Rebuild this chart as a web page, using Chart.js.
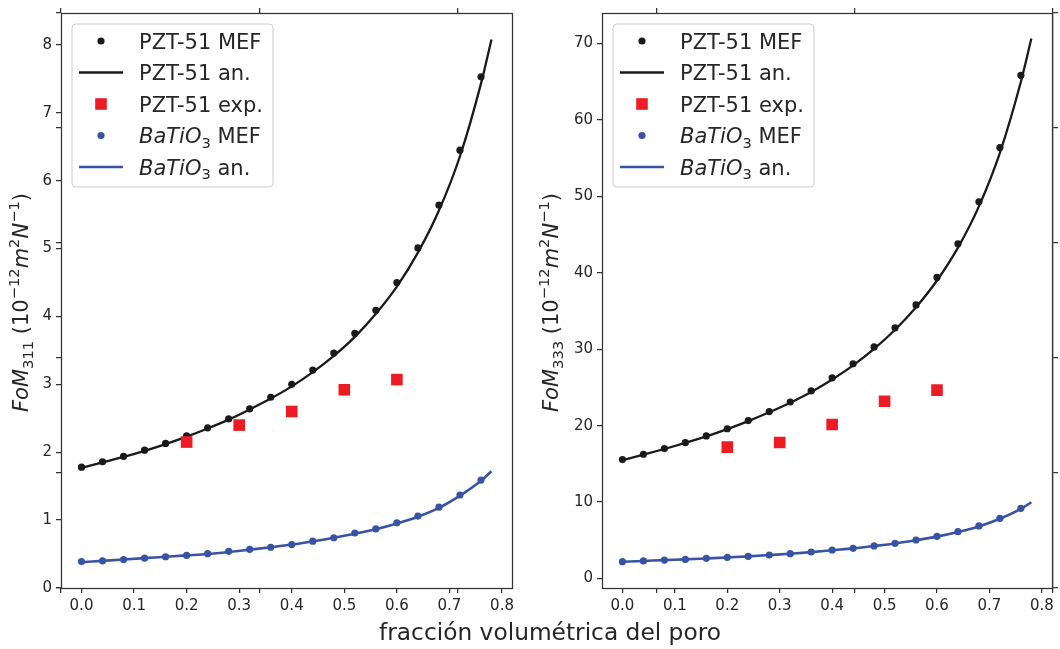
<!DOCTYPE html>
<html>
<head>
<meta charset="utf-8">
<script src="https://cdn.jsdelivr.net/npm/chart.js@4.4.1/dist/chart.umd.min.js"></script>
<style>
  html, body { margin: 0; padding: 0; background: #fff; }
  #lienzo { position: relative; width: 1060px; height: 649px; }
  #lienzo canvas { position: absolute; left: 0; top: 0; }
</style>
</head>
<body>
<div id="lienzo">
  <canvas id="marco" width="1060" height="649"></canvas>
  <canvas id="fom311" width="1060" height="649"></canvas>
  <canvas id="fom333" width="1060" height="649"></canvas>
</div>
<script>
// fracción volumétrica del poro
const fraccionMEF = [0, 0.04, 0.08, 0.12, 0.16, 0.20, 0.24, 0.28, 0.32, 0.36, 0.40, 0.44, 0.48, 0.52, 0.56, 0.60, 0.64, 0.68, 0.72, 0.76];
const fraccionAn = [0, 0.04, 0.08, 0.12, 0.16, 0.20, 0.24, 0.28, 0.32, 0.36, 0.40, 0.44, 0.48, 0.52, 0.56, 0.60, 0.64, 0.68, 0.72, 0.76, 0.78];
const fraccionExp = [0.2, 0.3, 0.4, 0.5, 0.6];

// FoM311
const pzt311MEF = [1.78, 1.86, 1.94, 2.03, 2.13, 2.24, 2.36, 2.49, 2.64, 2.81, 3.00, 3.21, 3.46, 3.75, 4.09, 4.50, 5.01, 5.64, 6.45, 7.53];
const pzt311An = [1.77, 1.85, 1.93, 2.02, 2.12, 2.23, 2.35, 2.48, 2.63, 2.79, 2.97, 3.18, 3.42, 3.70, 4.04, 4.44, 4.94, 5.56, 6.36, 7.43, 8.08];
const pzt311Exp = [2.15, 2.40, 2.60, 2.92, 3.07];
const bto311MEF = [0.39, 0.40, 0.42, 0.44, 0.46, 0.48, 0.505, 0.54, 0.57, 0.60, 0.64, 0.69, 0.74, 0.81, 0.87, 0.96, 1.06, 1.19, 1.37, 1.59];
const bto311An = [0.38, 0.40, 0.42, 0.44, 0.46, 0.48, 0.50, 0.53, 0.565, 0.60, 0.64, 0.685, 0.74, 0.80, 0.865, 0.95, 1.05, 1.18, 1.36, 1.58, 1.72];

// FoM333
const pzt333MEF = [15.56, 16.26, 17.0, 17.79, 18.66, 19.6, 20.67, 21.85, 23.1, 24.55, 26.26, 28.1, 30.3, 32.8, 35.8, 39.4, 43.8, 49.3, 56.4, 65.85];
const pzt333An = [15.5, 16.2, 16.95, 17.75, 18.6, 19.55, 20.6, 21.75, 23.0, 24.4, 26.05, 27.9, 30.05, 32.55, 35.5, 39.0, 43.3, 48.7, 55.7, 65.0, 70.65];
const pzt333Exp = [17.2, 17.8, 20.15, 23.2, 24.65];
const bto333MEF = [2.2, 2.3, 2.42, 2.5, 2.64, 2.77, 2.9, 3.08, 3.25, 3.47, 3.73, 3.95, 4.26, 4.6, 5.04, 5.52, 6.13, 6.88, 7.88, 9.19];
const bto333An = [2.2, 2.3, 2.41, 2.5, 2.63, 2.76, 2.9, 3.07, 3.25, 3.46, 3.71, 3.95, 4.25, 4.58, 5.0, 5.48, 6.08, 6.82, 7.82, 9.12, 9.98];

// marcas de los ejes
const ticksX = [0, 0.1, 0.2, 0.3, 0.4, 0.5, 0.6, 0.7, 0.8];
const ticksY311 = [0, 1, 2, 3, 4, 5, 6, 7, 8];
const ticksY333 = [0, 10, 20, 30, 40, 50, 60, 70];
const ticksMarco = [0, 0.2, 0.4, 0.6, 0.8, 1.0];

const FUENTE = '"DejaVu Sans"';
const NEGRO = '#1a1a1a';
const AZUL = '#3953a4';
const ROJO = '#ed1c24';
const EJE = '#333333';
const TEXTO = '#262626';

const pares = (xs, ys) => xs.map((x, i) => ({ x: x, y: ys[i] }));

// texto con cursiva, subíndices y superíndices
function anchoRico(ctx, segs, size) {
    let w = 0;
    segs.forEach(s => {
        const fs = (s.sub || s.sup) ? size * 0.7 : size;
        ctx.font = (s.it ? 'italic ' : '') + fs + 'px ' + FUENTE;
        w += ctx.measureText(s.t).width;
    });
    return w;
}
function dibujarRico(ctx, segs, x, y, size) {
    let cx = x;
    segs.forEach(s => {
        const fs = (s.sub || s.sup) ? size * 0.7 : size;
        ctx.font = (s.it ? 'italic ' : '') + fs + 'px ' + FUENTE;
        const dy = s.sub ? size * 0.22 : (s.sup ? -size * 0.42 : 0);
        ctx.fillText(s.t, cx, y + dy);
        cx += ctx.measureText(s.t).width;
    });
}
function segmentosEtiqueta(label) {
    if (label.startsWith('BaTiO3')) {
        return [{ t: 'BaTiO', it: true }, { t: '3', sub: true }, { t: label.slice(6) }];
    }
    return [{ t: label }];
}

// marco completo de cada panel
const marcoPanel = {
    id: 'marcoPanel',
    afterDraw(chart) {
        const a = chart.chartArea, ctx = chart.ctx;
        ctx.save();
        ctx.strokeStyle = EJE;
        ctx.lineWidth = 1.25;
        const l = Math.round(a.left) + 0.5, r = Math.round(a.right) + 0.5;
        const t = Math.round(a.top) + 0.5, b = Math.round(a.bottom) + 0.5;
        ctx.strokeRect(l, t, r - l, b - t);
        ctx.restore();
    }
};

// leyenda dentro del área de datos
const leyendaPanel = {
    id: 'leyendaPanel',
    afterDraw(chart) {
        const a = chart.chartArea, ctx = chart.ctx;
        const x0 = a.left + 11, y0 = a.top + 11, w = 201, h = 163, rad = 4;
        ctx.save();
        ctx.beginPath();
        ctx.moveTo(x0 + rad, y0);
        ctx.arcTo(x0 + w, y0, x0 + w, y0 + h, rad);
        ctx.arcTo(x0 + w, y0 + h, x0, y0 + h, rad);
        ctx.arcTo(x0, y0 + h, x0, y0, rad);
        ctx.arcTo(x0, y0, x0 + w, y0, rad);
        ctx.closePath();
        ctx.fillStyle = 'rgba(255,255,255,0.8)';
        ctx.fill();
        ctx.strokeStyle = '#cccccc';
        ctx.lineWidth = 1;
        ctx.stroke();

        const size = 21;
        chart.data.datasets.forEach((ds, i) => {
            const cy = a.top + 28 + i * 31.5;
            const mx = a.left + 40;
            if (ds.showLine) {
                ctx.strokeStyle = ds.borderColor;
                ctx.lineWidth = ds.borderWidth;
                ctx.beginPath();
                ctx.moveTo(a.left + 18, cy);
                ctx.lineTo(a.left + 62, cy);
                ctx.stroke();
            } else if (ds.pointStyle === 'rect') {
                const s = ds.pointRadius * Math.SQRT1_2;
                ctx.fillStyle = ds.backgroundColor;
                ctx.fillRect(mx - s, cy - s, 2 * s, 2 * s);
            } else {
                ctx.fillStyle = ds.backgroundColor;
                ctx.beginPath();
                ctx.arc(mx, cy, ds.pointRadius, 0, 2 * Math.PI);
                ctx.fill();
            }
            ctx.fillStyle = TEXTO;
            ctx.textBaseline = 'alphabetic';
            ctx.textAlign = 'left';
            dibujarRico(ctx, segmentosEtiqueta(ds.label), a.left + 78, cy + size * 0.36, size);
        });
        ctx.restore();
    }
};

// título del eje y girado
const tituloY = {
    id: 'tituloY',
    afterDraw(chart, args, opts) {
        const a = chart.chartArea, ctx = chart.ctx;
        const size = 21;
        ctx.save();
        ctx.fillStyle = TEXTO;
        ctx.textBaseline = 'alphabetic';
        ctx.textAlign = 'left';
        const w = anchoRico(ctx, opts.segs, size);
        ctx.translate(a.left - opts.dist, (a.top + a.bottom) / 2 + 2);
        ctx.rotate(-Math.PI / 2);
        dibujarRico(ctx, opts.segs, -w / 2, 0, size);
        ctx.restore();
    }
};

function crearPanel(id, p) {
    const ctx = document.getElementById(id).getContext('2d');
    return new Chart(ctx, {
        type: 'scatter',
        data: {
            datasets: [
                { label: 'PZT-51 MEF', data: pares(fraccionMEF, p.pztMEF), showLine: false,
                  pointRadius: 3.6, pointBorderWidth: 0, backgroundColor: NEGRO, order: 2 },
                { label: 'PZT-51 an.', data: pares(fraccionAn, p.pztAn), showLine: true,
                  borderColor: NEGRO, borderWidth: 2.3, pointRadius: 0, cubicInterpolationMode: 'monotone', order: 1 },
                { label: 'PZT-51 exp.', data: pares(fraccionExp, p.pztExp), showLine: false,
                  pointStyle: 'rect', pointRadius: 8.2, pointBorderWidth: 0, backgroundColor: ROJO, order: 0 },
                { label: 'BaTiO3 MEF', data: pares(fraccionMEF, p.btoMEF), showLine: false,
                  pointRadius: 3.6, pointBorderWidth: 0, backgroundColor: AZUL, order: 4 },
                { label: 'BaTiO3 an.', data: pares(fraccionAn, p.btoAn), showLine: true,
                  borderColor: AZUL, borderWidth: 2.6, pointRadius: 0, cubicInterpolationMode: 'monotone', order: 3 }
            ]
        },
        options: {
            responsive: false,
            animation: false,
            events: [],
            layout: { padding: { left: p.padIzq, right: p.padDer, top: 13, bottom: 0 } },
            plugins: {
                legend: { display: false },
                tooltip: { enabled: false },
                tituloY: { segs: p.titulo, dist: p.distTitulo }
            },
            scales: {
                x: {
                    type: 'linear', position: 'bottom', min: -0.039, max: 0.819,
                    afterBuildTicks: s => { s.ticks = ticksX.map(v => ({ value: v })); },
                    afterFit: s => { s.height = 61; },
                    ticks: { color: TEXTO, font: { family: 'DejaVu Sans', size: 15 }, padding: 4,
                             maxRotation: 0, autoSkip: false, callback: v => v.toFixed(1) },
                    grid: { drawOnChartArea: false, color: EJE, lineWidth: 1.25, tickLength: 5 },
                    border: { display: false }
                },
                y: {
                    type: 'linear', position: 'left', min: p.yMin, max: p.yMax,
                    afterBuildTicks: s => { s.ticks = p.yTicks.map(v => ({ value: v })); },
                    afterFit: s => { s.width = 61; },
                    ticks: { color: TEXTO, font: { family: 'DejaVu Sans', size: 15 }, padding: 4,
                             autoSkip: false, callback: v => String(v) },
                    grid: { drawOnChartArea: false, color: EJE, lineWidth: 1.25, tickLength: 5 },
                    border: { display: false }
                }
            }
        },
        plugins: [marcoPanel, leyendaPanel, tituloY]
    });
}

// ejes de fondo que abarcan ambos paneles
const tituloX = {
    id: 'tituloX',
    afterDraw(chart) {
        const ctx = chart.ctx;
        ctx.save();
        ctx.fillStyle = TEXTO;
        ctx.font = '23.3px ' + FUENTE;
        ctx.textAlign = 'center';
        ctx.textBaseline = 'alphabetic';
        ctx.fillText('fracción volumétrica del poro', 550, 640);
        ctx.restore();
    }
};

function ejeMarco(pos, tam) {
    const horizontal = pos === 'top' || pos === 'bottom';
    return {
        type: 'linear', position: pos, min: 0, max: 1,
        afterBuildTicks: s => { s.ticks = ticksMarco.map(v => ({ value: v })); },
        afterFit: s => { if (horizontal) { s.height = tam; } else { s.width = tam; } },
        ticks: { display: false },
        grid: { drawOnChartArea: false, color: EJE, lineWidth: 1.25, tickLength: 5 },
        border: { display: pos === 'right', color: EJE, width: 1.25 }
    };
}

new Chart(document.getElementById('marco').getContext('2d'), {
    type: 'scatter',
    data: { datasets: [] },
    options: {
        responsive: false,
        animation: false,
        events: [],
        layout: { padding: 0 },
        plugins: { legend: { display: false }, tooltip: { enabled: false } },
        scales: {
            xb: ejeMarco('bottom', 61),
            xt: ejeMarco('top', 13),
            yl: ejeMarco('left', 61),
            yr: ejeMarco('right', 7)
        }
    },
    plugins: [tituloX]
});

crearPanel('fom311', {
    pztMEF: pzt311MEF, pztAn: pzt311An, pztExp: pzt311Exp, btoMEF: bto311MEF, btoAn: bto311An,
    yMin: 0, yMax: 8.47, yTicks: ticksY311, padIzq: 0, padDer: 548, distTitulo: 33,
    titulo: [{ t: 'FoM', it: true }, { t: '311', sub: true }, { t: ' (10' }, { t: '\u221212', sup: true },
             { t: 'm', it: true }, { t: '2', sup: true }, { t: 'N', it: true }, { t: '\u22121', sup: true }, { t: ')' }]
});

crearPanel('fom333', {
    pztMEF: pzt333MEF, pztAn: pzt333An, pztExp: pzt333Exp, btoMEF: bto333MEF, btoAn: bto333An,
    yMin: -1.24, yMax: 74.0, yTicks: ticksY333, padIzq: 541, padDer: 7, distTitulo: 44,
    titulo: [{ t: 'FoM', it: true }, { t: '333', sub: true }, { t: ' (10' }, { t: '\u221212', sup: true },
             { t: 'm', it: true }, { t: '2', sup: true }, { t: 'N', it: true }, { t: '\u22121', sup: true }, { t: ')' }]
});
</script>
</body>
</html>
